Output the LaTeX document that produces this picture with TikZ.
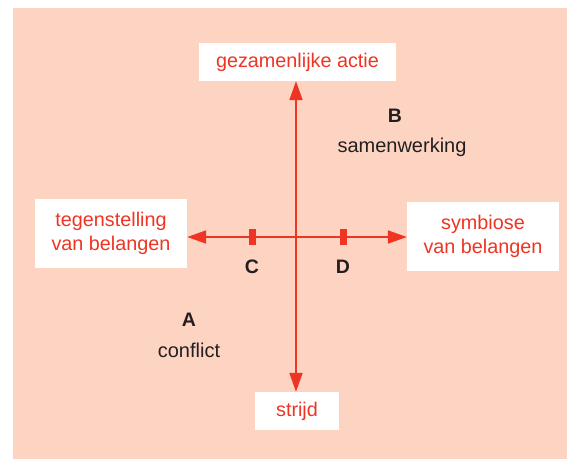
\documentclass[tikz,border=0pt]{standalone}
\usepackage{fontspec}
\setmainfont{Liberation Sans}
\usetikzlibrary{arrows.meta}
\definecolor{bgpeach}{HTML}{FDD3C2}
\definecolor{axisred}{HTML}{EE3524}
\definecolor{darktext}{HTML}{231F20}
\tikzset{
  labelbox/.style={fill=white, text=axisred, inner sep=0pt, align=center,
    font=\fontsize{19.8}{24}\selectfont},
  axisline/.style={draw=axisred, line width=2pt,
    -{Triangle[length=19pt,width=13pt]}, shorten >=0pt},
  tickmark/.style={fill=axisred, draw=none, minimum width=7pt, minimum height=16pt, inner sep=0pt},
  letterlbl/.style={text=darktext, inner sep=0pt, font=\bfseries\fontsize{19.5}{22}\selectfont},
  wordlbl/.style={text=darktext, inner sep=0pt, font=\fontsize{20}{22}\selectfont}
}
\begin{document}
\begin{tikzpicture}[x=1pt,y=-1pt]
\useasboundingbox (0,0) rectangle (567,459);
\fill[bgpeach] (13,8) rectangle (567,459);
\node[labelbox, minimum width=197pt, minimum height=38pt] (top) at (297.5,62) {gezamenlijke actie};
\node[labelbox, minimum width=152pt, minimum height=69pt] (left) at (111,233.5) {tegenstelling\\van belangen};
\node[labelbox, minimum width=152pt, minimum height=69pt] (right) at (483,236.5) {symbiose\\van belangen};
\node[labelbox, minimum width=84pt, minimum height=38pt] (bottom) at (297,411) {strijd};
\coordinate (O) at (296,237);
\draw[axisline] (O) -- (O |- top.south);
\draw[axisline] (O) -- (O |- bottom.north);
\draw[axisline] (O) -- (O -| left.east);
\draw[axisline] (O) -- (O -| right.west);
\node[tickmark] (tc) at (252,236.5) {};
\node[tickmark] (td) at (343,236.5) {};
\node[letterlbl] (lc) at (252,267) {C};
\node[letterlbl] (ld) at (343,267) {D};
\node[letterlbl] (la) at (189,320) {A};
\node[wordlbl] (wa) at (189,350) {conflict};
\node[letterlbl] (lb) at (395,116) {B};
\node[wordlbl] (wb) at (402,147) {samenwerking};
\end{tikzpicture}
\end{document}
